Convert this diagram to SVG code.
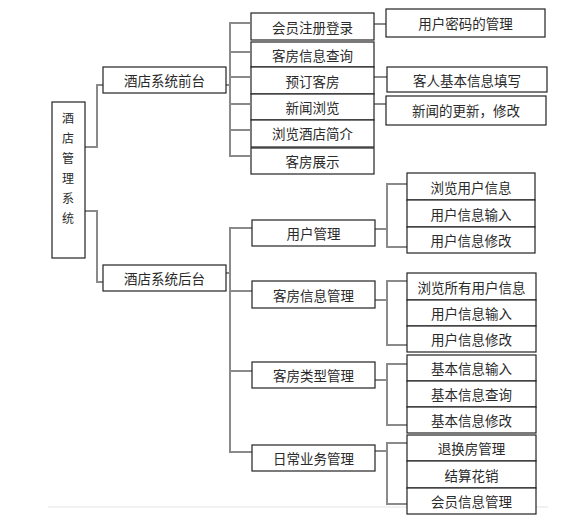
<svg xmlns="http://www.w3.org/2000/svg" width="564" height="517" viewBox="0 0 564 517">
<style>
.b{fill:#fff;stroke:#222;stroke-width:1.2}
.t{font-family:"Noto Sans CJK SC","Liberation Sans",sans-serif;font-size:13.5px;fill:#2a2a2a;text-anchor:middle;dominant-baseline:central}
.r{font-size:12px}
.c{fill:none;stroke:#8a8a8a;stroke-width:2}
</style>
<rect width="564" height="517" fill="#fff"/>
<line x1="48" y1="507" x2="548" y2="507" stroke="#ececec" stroke-width="1.5"/>
<g id="connectors" class="c">
<path d="M85,147H97V85H103"/>
<path d="M85,211H97V282H103"/>
<path d="M226,85H230"/>
<path d="M250,23H230V156H250M230,52H250M230,77H250M230,104H250M230,130H250"/>
<path d="M374,24H386"/>
<path d="M374,77H387"/>
<path d="M374,104H386"/>
<path d="M226,273H230"/>
<path d="M252,228H230V452H252M230,291H252M230,371H252"/>
<path d="M375,229H387"/>
<path d="M407,184H387V247H407"/>
<path d="M375,300H387"/>
<path d="M407,281H387V345H407"/>
<path d="M375,380H387"/>
<path d="M407,364H387V425H407"/>
<path d="M375,451H387"/>
<path d="M407,443H387V504H407"/>
</g>
<g id="root"><rect class="b" x="52" y="102" width="33" height="156"/>
<text class="t r" x="68" y="117">酒</text><text class="t r" x="68" y="137">店</text><text class="t r" x="68" y="157">管</text><text class="t r" x="68" y="177">理</text><text class="t r" x="68" y="197">系</text><text class="t r" x="68" y="217">统</text></g>
<g id="front"><rect class="b" x="103" y="67" width="123" height="26"/><text class="t" x="164.5" y="80">酒店系统前台</text></g>
<g id="back"><rect class="b" x="103" y="265" width="123" height="26"/><text class="t" x="164.5" y="278">酒店系统后台</text></g>
<g id="f1"><rect class="b" x="251" y="13" width="123" height="27"/><text class="t" x="312.5" y="27">会员注册登录</text></g>
<g id="f2"><rect class="b" x="251" y="42" width="123" height="25"/><text class="t" x="312.5" y="55">客房信息查询</text></g>
<g id="f3"><rect class="b" x="251" y="67" width="123" height="27"/><text class="t" x="312.5" y="81">预订客房</text></g>
<g id="f4"><rect class="b" x="251" y="94" width="123" height="26"/><text class="t" x="312.5" y="107">新闻浏览</text></g>
<g id="f5"><rect class="b" x="251" y="120" width="123" height="27"/><text class="t" x="312.5" y="133">浏览酒店简介</text></g>
<g id="f6"><rect class="b" x="251" y="148" width="123" height="26"/><text class="t" x="312.5" y="161">客房展示</text></g>
<g id="f1a"><rect class="b" x="386" y="9" width="159" height="28"/><text class="t" x="465.5" y="23">用户密码的管理</text></g>
<g id="f3a"><rect class="b" x="387" y="67" width="160" height="25"/><text class="t" x="467" y="80">客人基本信息填写</text></g>
<g id="f4a"><rect class="b" x="386" y="96" width="160" height="29"/><text class="t" x="466" y="110">新闻的更新，修改</text></g>
<g id="b1"><rect class="b" x="252" y="220" width="123" height="26"/><text class="t" x="313.5" y="233">用户管理</text></g>
<g id="b1a"><rect class="b" x="407" y="173" width="128" height="27"/><text class="t" x="471" y="186.5">浏览用户信息</text></g>
<g id="b1b"><rect class="b" x="407" y="200" width="128" height="27"/><text class="t" x="471" y="213.5">用户信息输入</text></g>
<g id="b1c"><rect class="b" x="407" y="227" width="128" height="26"/><text class="t" x="471" y="240">用户信息修改</text></g>
<g id="b2"><rect class="b" x="252" y="281" width="123" height="27"/><text class="t" x="313.5" y="295">客房信息管理</text></g>
<g id="b2a"><rect class="b" x="407" y="273" width="129" height="27"/><text class="t" x="471.5" y="286.5">浏览所有用户信息</text></g>
<g id="b2b"><rect class="b" x="407" y="300" width="129" height="26"/><text class="t" x="471.5" y="313">用户信息输入</text></g>
<g id="b2c"><rect class="b" x="407" y="326" width="129" height="26"/><text class="t" x="471.5" y="339">用户信息修改</text></g>
<g id="b3"><rect class="b" x="252" y="362" width="123" height="26"/><text class="t" x="313.5" y="375">客房类型管理</text></g>
<g id="b3a"><rect class="b" x="407" y="355" width="129" height="26"/><text class="t" x="471.5" y="368">基本信息输入</text></g>
<g id="b3b"><rect class="b" x="407" y="381" width="129" height="26"/><text class="t" x="471.5" y="394">基本信息查询</text></g>
<g id="b3c"><rect class="b" x="407" y="407" width="129" height="26"/><text class="t" x="471.5" y="420">基本信息修改</text></g>
<g id="b4"><rect class="b" x="252" y="445" width="123" height="26"/><text class="t" x="313.5" y="458">日常业务管理</text></g>
<g id="b4a"><rect class="b" x="407" y="435" width="129" height="26"/><text class="t" x="471.5" y="448">退换房管理</text></g>
<g id="b4b"><rect class="b" x="407" y="461" width="129" height="27"/><text class="t" x="471.5" y="474.5">结算花销</text></g>
<g id="b4c"><rect class="b" x="407" y="488" width="129" height="26"/><text class="t" x="471.5" y="501">会员信息管理</text></g>
</svg>
